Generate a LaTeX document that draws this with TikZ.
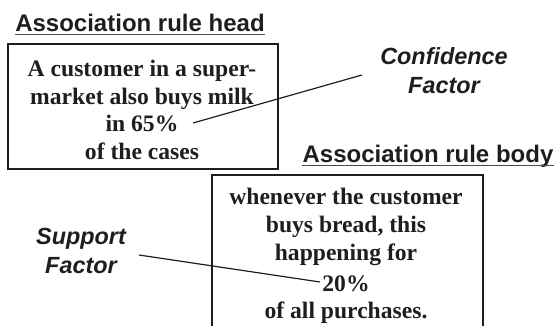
\documentclass[tikz,border=0pt]{standalone}
\usepackage{fontspec}
\setmainfont{Liberation Serif}
\setsansfont{Liberation Sans}
\definecolor{ink}{HTML}{1E1E1E}
\tikzset{
  boxframe/.style={draw=ink, line width=1.9pt, inner sep=0pt},
  serifline/.style={text=ink, inner sep=0pt, anchor=base, font=\fontsize{23.6}{28}\selectfont\bfseries},
  heading/.style={text=ink, inner sep=0pt, anchor=base, font=\fontsize{24}{28}\selectfont\sffamily\bfseries},
  factor/.style={text=ink, inner sep=0pt, anchor=base, font=\fontsize{23.4}{28}\selectfont\sffamily\bfseries\itshape},
  uline/.style={draw=ink!80, line width=1.1pt},
  pointer/.style={draw=ink, line width=1.2pt},
}
\begin{document}
\begin{tikzpicture}[x=1pt,y=-1pt]
\useasboundingbox (0,0) rectangle (555,326);
\clip (0,0) rectangle (555,326);
% headings
\node[heading] (headA) at (140,32) {Association rule head};
\node[heading] (headB) at (428,163) {Association rule body};
\draw[uline] ([yshift=-2.2pt]headA.base west) -- ([yshift=-2.2pt]headA.base east);
\draw[uline] ([yshift=-2.6pt]headB.base west) -- ([yshift=-2.6pt]headB.base east);
% box 1
\node[boxframe, minimum width=270pt, minimum height=125pt] (box1) at (143,106.5) {};
\node[serifline] (h1) at (142,77) {A customer in a super-};
\node[serifline] (h2) at (142,105) {market also buys milk};
\node[serifline] (h3) at (142,132) {in 65\%};
\node[serifline] (h4) at (142,160) {of the cases};
% box 2
\node[boxframe, minimum width=271pt, minimum height=172pt] (box2) at (347.5,261) {};
\node[serifline] (b1) at (346,205) {whenever the customer};
\node[serifline] (b2) at (346,233) {buys bread, this};
\node[serifline] (b3) at (346,261) {happening for};
\node[serifline] (b4) at (346,291) {20\%};
\node[serifline] (b5) at (346,319) {of all purchases.};
% factors
\node[factor] (cf1) at (444,65) {Confidence};
\node[factor] (cf2) at (444,94) {Factor};
\node[factor] (sf1) at (81,245) {Support};
\node[factor] (sf2) at (81,274) {Factor};
% pointers
\coordinate (cfEnd) at (362,75);
\coordinate (cfStart) at (193,123);
\coordinate (sfEnd) at (139,255);
\coordinate (sfStart) at (320,282);
\draw[pointer] (cfStart) -- (cfEnd);
\draw[pointer] (sfEnd) -- (sfStart);
\end{tikzpicture}
\end{document}
